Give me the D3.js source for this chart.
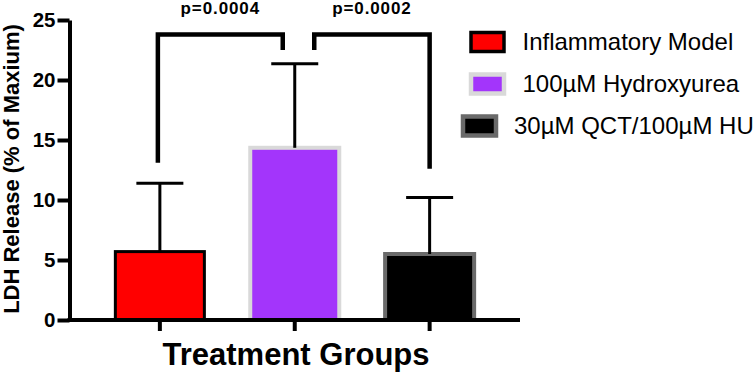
<!DOCTYPE html>
<html>
<head>
  <meta charset="UTF-8">
  <title>LDH Release</title>
  <script src="https://d3js.org/d3.v7.min.js"></script>
  <style>
    body { margin: 0; background: #fff; }
    svg text { font-family: "Liberation Sans", Arial, sans-serif; }
  </style>
</head>
<body>
  <svg id="svg1" width="755" height="373"></svg>

  <script>
    // data
    const groups = ["Inflammatory Model", "100\u00B5M Hydroxyurea", "30\u00B5M QCT/100\u00B5M HU"];
    const means = [5.7, 14.35, 5.5];
    const sds = [5.7, 7.0, 4.7];
    const fills = ["#ff0000", "#a335fb", "#000000"];
    const strokes = ["#000000", "#d9d9d9", "#6a6a6a"];
    const yTicks = [0, 5, 10, 15, 20, 25];
    const comparisons = [
      { from: 0, to: 1, p: "p=0.0004", top: 23.8, leftEnd: 13.1, rightEnd: 22.5 },
      { from: 1, to: 2, p: "p=0.0002", top: 23.8, leftEnd: 22.5, rightEnd: 12.6 }
    ];

    const svg1 = d3.select("#svg1");
    const margin = { left: 69.5, top: 20 };
    const plotRight = 520;
    const plotBottom = 320;

    const xScale = d3.scaleBand(d3.range(groups.length), [margin.left, plotRight])
                     .paddingInner(0.34).paddingOuter(0.34);
    const yScale = d3.scaleLinear([0, 25], [plotBottom, margin.top]);

    // bars
    svg1.selectAll("rect.bar").data(means).join("rect")
        .attr("class", "bar")
        .attr("x", (d, i) => xScale(i))
        .attr("y", d => yScale(d))
        .attr("width", xScale.bandwidth())
        .attr("height", d => yScale(0) - yScale(d))
        .attr("fill", (d, i) => fills[i])
        .attr("stroke", (d, i) => strokes[i])
        .attr("stroke-width", (d, i) => i == 0 ? 3 : 4);

    // error bars (upper only)
    const errs = svg1.append("g").attr("stroke", "#000").attr("stroke-width", 3);
    means.forEach((m, i) => {
      const cx = xScale(i) + xScale.bandwidth() / 2;
      errs.append("line")
          .attr("x1", cx).attr("x2", cx)
          .attr("y1", yScale(m)).attr("y2", yScale(m + sds[i]));
      errs.append("line")
          .attr("x1", cx - 23.5).attr("x2", cx + 23.5)
          .attr("y1", yScale(m + sds[i])).attr("y2", yScale(m + sds[i]));
    });

    // axes
    const leftAxis = d3.axisLeft(yScale).tickValues(yTicks).tickSize(12).tickSizeOuter(0).tickPadding(2);
    const gy = svg1.append("g")
        .attr("transform", `translate(${margin.left},0)`)
        .call(leftAxis);
    gy.selectAll("path, line").attr("stroke", "#000").attr("stroke-width", 4);
    gy.selectAll("text")
        .attr("font-size", 20.5).attr("font-weight", "bold")
        .attr("fill", "#000")
        .style("font-family", "'Liberation Sans', Arial, sans-serif");

    const bottomAxis = d3.axisBottom(xScale).tickSize(11).tickSizeOuter(0).tickFormat("");
    const gx = svg1.append("g")
        .attr("transform", `translate(0,${plotBottom})`)
        .call(bottomAxis);
    gx.select("path").attr("d", `M${margin.left - 2},0H${plotRight}`);
    gx.selectAll("path, line").attr("stroke", "#000").attr("stroke-width", 4);

    // axis titles
    svg1.append("text")
        .attr("transform", "rotate(-90)")
        .attr("x", -169)
        .attr("y", 18.5)
        .attr("text-anchor", "middle")
        .attr("font-size", 22)
        .attr("font-weight", "bold")
        .text("LDH Release (% of Maxium)");

    svg1.append("text")
        .attr("x", 296)
        .attr("y", 365)
        .attr("text-anchor", "middle")
        .attr("font-size", 31)
        .attr("font-weight", "bold")
        .text("Treatment Groups");

    // significance brackets
    const cen = i => xScale(i) + xScale.bandwidth() / 2;
    const brackets = svg1.append("g");
    comparisons.forEach((c, k) => {
      const xa = k == 0 ? cen(c.from) - 2 : cen(c.from) + 19.5;
      const xb = k == 0 ? cen(c.to) - 12 : cen(c.to);
      brackets.append("path")
          .attr("d", `M${xa},${yScale(c.leftEnd)}V${yScale(c.top)}H${xb}V${yScale(c.rightEnd)}`)
          .attr("fill", "none")
          .attr("stroke", "#000")
          .attr("stroke-width", 4.5);
      brackets.append("text")
          .attr("x", (xa + xb) / 2)
          .attr("y", 14)
          .attr("text-anchor", "middle")
          .attr("font-size", 17)
          .attr("font-weight", "bold")
          .attr("letter-spacing", 0.9)
          .text(c.p);
    });

    // legend
    const legendX = [469, 469, 461];
    const legendY = [42, 84, 126];
    const legend = svg1.selectAll("g.legend").data(groups).join("g")
        .attr("class", "legend")
        .attr("transform", (d, i) => `translate(${legendX[i]},${legendY[i]})`);
    legend.append("rect")
        .attr("x", 2).attr("y", -9.5)
        .attr("width", 33).attr("height", 19)
        .attr("fill", (d, i) => fills[i])
        .attr("stroke", (d, i) => strokes[i])
        .attr("stroke-width", (d, i) => i == 0 ? 3.5 : 4.5);
    legend.append("text")
        .attr("x", (d, i) => i == 2 ? 53 : 53.5)
        .attr("y", 8)
        .attr("font-size", 24)
        .attr("fill", "#000")
        .text(d => d);
  </script>
</body>
</html>
